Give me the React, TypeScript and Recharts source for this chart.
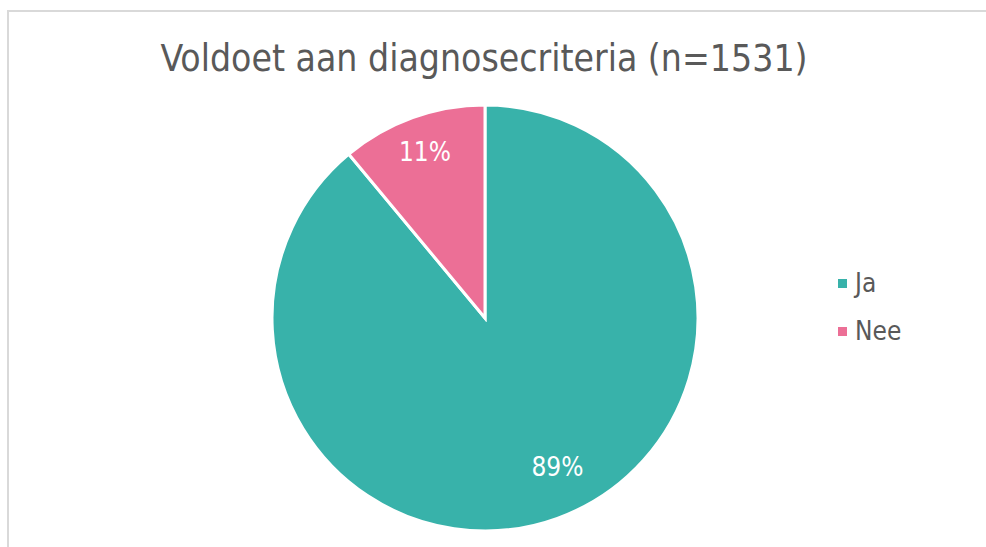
import React from "react";
import { PieChart, Pie, Cell, Legend } from "recharts";

const categories = ["Ja", "Nee"];
const counts = [1362, 169];
const percentLabels = ["89%", "11%"];
const colors = ["#38B2AA", "#EC6F96"];

const data = categories.map((name, i) => ({ name, value: counts[i], label: percentLabels[i] }));

const FONT = "'DejaVu Sans Condensed', 'DejaVu Sans', sans-serif";
const RAD = Math.PI / 180;

const renderLabel = (props: any) => {
  const { cx, cy, midAngle, outerRadius, index } = props;
  const big = data[index].value > 1000;
  const r = outerRadius * (big ? 0.78 : 0.83);
  const a = midAngle + (big ? 6 : 0);
  const x = cx + r * Math.cos(-a * RAD);
  const y = cy + r * Math.sin(-a * RAD);
  return (
    <text
      x={x}
      y={y}
      fill="#ffffff"
      textAnchor="middle"
      dominantBaseline="central"
      fontFamily={FONT}
      fontSize={26}
    >
      {data[index].label}
    </text>
  );
};

const renderLegend = (props: any) => {
  const { payload } = props;
  return (
    <div style={{ fontFamily: FONT }}>
      {payload.map((entry: any, i: number) => (
        <div
          key={i}
          style={{ display: "flex", alignItems: "center", height: 48, color: "#595959", fontSize: 26 }}
        >
          <span
            style={{ display: "inline-block", width: 9, height: 9, background: entry.color, marginRight: 8 }}
          />
          <span>{entry.value}</span>
        </div>
      ))}
    </div>
  );
};

export default function App() {
  return (
    <div style={{ position: "absolute", left: 0, top: 0, width: 986, height: 547, background: "#fff", overflow: "hidden" }}>
      <div
        style={{
          position: "absolute",
          left: 7,
          top: 10,
          width: 1000,
          height: 600,
          border: "2px solid #d9d9d9",
          boxSizing: "border-box",
        }}
      />
      <div
        style={{
          position: "absolute",
          left: 0,
          top: 37,
          width: 968,
          textAlign: "center",
          fontFamily: FONT,
          fontSize: 37,
          color: "#595959",
          whiteSpace: "nowrap",
        }}
      >
        Voldoet aan diagnosecriteria (n=1531)
      </div>
      <div style={{ position: "absolute", left: 0, top: 0 }}>
        <PieChart width={986} height={547} margin={{ top: 0, right: 0, bottom: 0, left: 0 }}>
          <Pie
            data={data}
            dataKey="value"
            nameKey="name"
            cx={485}
            cy={318}
            outerRadius={213}
            startAngle={90}
            endAngle={-270}
            stroke="#ffffff"
            strokeWidth={3}
            label={renderLabel}
            labelLine={false}
            isAnimationActive={false}
          >
            {data.map((d, i) => (
              <Cell key={d.name} fill={colors[i]} />
            ))}
          </Pie>
          <Legend
            layout="vertical"
            align="right"
            verticalAlign="top"
            content={renderLegend}
            wrapperStyle={{ left: 838, top: 259, width: 120 }}
          />
        </PieChart>
      </div>
    </div>
  );
}
